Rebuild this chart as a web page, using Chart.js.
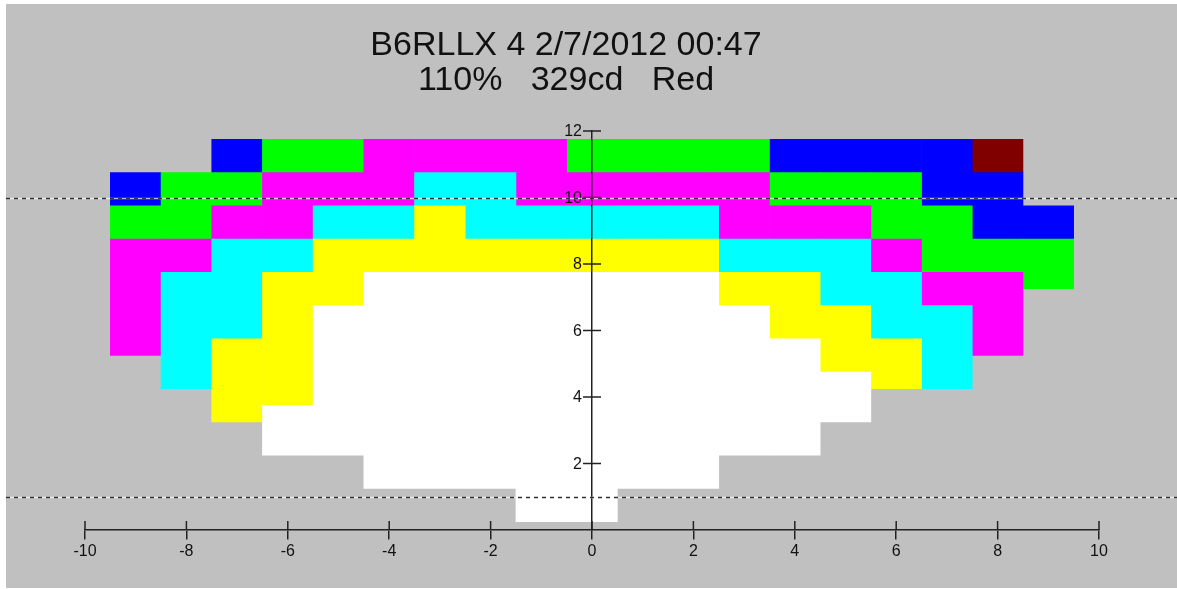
<!DOCTYPE html>
<html>
<head>
<meta charset="utf-8">
<title>B6RLLX 4</title>
<script src="https://cdn.jsdelivr.net/npm/chart.js@4.4.1/dist/chart.umd.min.js"></script>
<style>
  html, body { margin: 0; padding: 0; background: #fff; }
  #wrap {
    position: absolute; left: 6px; top: 4px;
    width: 1171px; height: 584px;
    background: #c0c0c0;
  }
  .title {
    position: absolute; left: 0; width: 1132px;
    text-align: center; white-space: pre;
    font-family: "Liberation Sans", Arial, sans-serif;
    font-size: 34px; line-height: 35px; color: #111;
  }
</style>
</head>
<body>
<div id="wrap"><canvas id="chart"></canvas></div>
<div class="title" style="top:26px">B6RLLX 4 2/7/2012 00:47</div>
<div class="title" style="top:61px">110%   329cd   Red</div>

<script>
// columns of the grid (x), one cell wide each
const columns = [-9, -8, -7, -6, -5, -4, -3, -2, -1, 0, 1, 2, 3, 4, 5, 6, 7, 8, 9];

// [bottom, top] of each colour band per column, null = no cell
const whiteCells = [null, null, null, [2.25, 3.75], [2.25, 6.75], [1.25, 7.75], [1.25, 7.75], [1.25, 7.75], [0.25, 7.75], [0.25, 7.75],
  [1.25, 7.75], [1.25, 7.75], [2.25, 6.75], [2.25, 5.75], [3.25, 4.75], null, null, null, null];
const yellowCells = [null, null, [3.25, 5.75], [3.75, 7.75], [6.75, 8.75], [7.75, 8.75], [7.75, 9.75], [7.75, 8.75], [7.75, 8.75], [7.75, 8.75],
  [7.75, 8.75], [7.75, 8.75], [6.75, 7.75], [5.75, 7.75], [4.75, 6.75], [4.25, 5.75], null, null, null];
const cyanCells = [null, [4.25, 7.75], [5.75, 8.75], [7.75, 8.75], [8.75, 9.75], [8.75, 9.75], [9.75, 10.75], [8.75, 10.75], [8.75, 9.75], [8.75, 9.75],
  [8.75, 9.75], [8.75, 9.75], [7.75, 8.75], [7.75, 8.75], [6.75, 8.75], [5.75, 7.75], [4.25, 6.75], null, null];
const magentaCells = [[5.25, 8.75], [7.75, 8.75], [8.75, 9.75], [8.75, 10.75], [9.75, 10.75], [9.75, 11.75], [10.75, 11.75], [10.75, 11.75], [9.75, 11.75], [9.75, 10.75],
  [9.75, 10.75], [9.75, 10.75], [8.75, 10.75], [8.75, 9.75], [8.75, 9.75], [7.75, 8.75], [6.75, 7.75], [5.25, 7.75], null];
const greenCells = [[8.75, 9.75], [8.75, 10.75], [9.75, 10.75], [10.75, 11.75], [10.75, 11.75], null, null, null, null, [10.75, 11.75],
  [10.75, 11.75], [10.75, 11.75], [10.75, 11.75], [9.75, 10.75], [9.75, 10.75], [8.75, 10.75], [7.75, 9.75], [7.75, 8.75], [7.25, 8.75]];
const blueCells = [[9.75, 10.75], null, [10.75, 11.75], null, null, null, null, null, null, null,
  null, null, null, [10.75, 11.75], [10.75, 11.75], [10.75, 11.75], [9.75, 11.75], [8.75, 10.75], [8.75, 9.75]];
const maroonCells = [null, null, null, null, null, null, null, null, null, null,
  null, null, null, null, null, null, null, [10.75, 11.75], null];

// axis ticks and the two dashed reference lines
const xTicks = [-10, -8, -6, -4, -2, 0, 2, 4, 6, 8, 10];
const yTicks = [2, 4, 6, 8, 10, 12];
const guideLines = [10, 1];

const axisColor = "#222";
const fontFamily = '"Liberation Sans", Arial, sans-serif';
Chart.defaults.font.family = fontFamily;
Chart.defaults.color = "#111";

// the y axis sits at x = 0: its labels and the inner half of the ticks
// are drawn here, then the dashed lines go over everything
const axisExtras = {
  id: "axisExtras",
  afterDatasetsDraw(chart) {
    const { ctx, scales: { y, x } } = chart;
    const x0 = x.getPixelForValue(0);
    ctx.save();
    ctx.font = "16px " + fontFamily;
    ctx.fillStyle = "#111";
    ctx.textAlign = "right";
    ctx.textBaseline = "middle";
    yTicks.forEach(v => {
      ctx.fillText(String(v), x0 - 10, y.getPixelForValue(v) + 1);
    });
    ctx.restore();
  },
  afterDraw(chart) {
    const { ctx, scales: { x, y } } = chart;
    const x0 = x.getPixelForValue(0);
    const y0 = y.getPixelForValue(0);
    ctx.save();
    ctx.strokeStyle = axisColor;
    ctx.lineWidth = 1.5;
    ctx.beginPath();
    xTicks.forEach(v => {
      const px = x.getPixelForValue(v);
      ctx.moveTo(px, y0 - 9);
      ctx.lineTo(px, y0);
    });
    yTicks.forEach(v => {
      const py = y.getPixelForValue(v);
      ctx.moveTo(x0 - 9, py);
      ctx.lineTo(x0 + 9, py);
    });
    ctx.stroke();

    guideLines.forEach(v => {
      const py = Math.round(y.getPixelForValue(v)) + 0.5;
      ctx.lineWidth = 1.5;
      ctx.setLineDash([]);
      ctx.strokeStyle = "rgba(255,255,255,0.7)";
      ctx.beginPath();
      ctx.moveTo(0, py);
      ctx.lineTo(chart.width, py);
      ctx.stroke();
      ctx.setLineDash([4, 4]);
      ctx.strokeStyle = "#333";
      ctx.beginPath();
      ctx.moveTo(0, py);
      ctx.lineTo(chart.width, py);
      ctx.stroke();
    });
    ctx.restore();
  }
};

function band(data, color) {
  return {
    data: data,
    backgroundColor: color,
    borderWidth: 0,
    grouped: false,
    barPercentage: 1,
    categoryPercentage: 1
  };
}

const ctx = document.getElementById("chart");

new Chart(ctx, {
  type: "bar",
  data: {
    labels: columns,
    datasets: [
      band(whiteCells, "#ffffff"),
      band(yellowCells, "#ffff00"),
      band(cyanCells, "#00ffff"),
      band(magentaCells, "#ff00ff"),
      band(greenCells, "#00ff00"),
      band(blueCells, "#0000ff"),
      band(maroonCells, "#800000")
    ]
  },
  options: {
    responsive: true,
    maintainAspectRatio: false,
    animation: false,
    layout: { padding: { left: 79, right: 78, top: 127, bottom: 58 } },
    plugins: {
      legend: { display: false },
      tooltip: { enabled: false }
    },
    scales: {
      x: {
        type: "linear",
        position: { y: 0 },
        min: -10,
        max: 10,
        offset: false,
        afterBuildTicks: axis => { axis.ticks = xTicks.map(v => ({ value: v })); },
        ticks: { font: { size: 16 }, padding: 3, color: "#111", z: 1 },
        grid: { offset: false, drawOnChartArea: false, tickLength: 9, color: axisColor, lineWidth: 1.5, z: 1 },
        border: { color: axisColor, width: 1.5, z: 1 }
      },
      y: {
        type: "linear",
        position: { x: 0 },
        min: 0,
        max: 12,
        afterBuildTicks: axis => { axis.ticks = yTicks.map(v => ({ value: v })); },
        ticks: { display: false },
        grid: { drawOnChartArea: false, drawTicks: false, color: axisColor, lineWidth: 1.5, z: 1 },
        border: { color: axisColor, width: 1.5, z: 1 }
      }
    }
  },
  plugins: [axisExtras]
});
</script>
</body>
</html>
